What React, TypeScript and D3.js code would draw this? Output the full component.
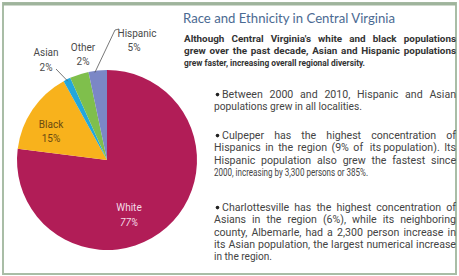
import { useEffect, useRef } from "react";
import * as d3 from "d3";

type Slice = { name: string; share: number; label: string; color: string };

// shares; labels as printed
const groups = ["White", "Black", "Asian", "Other", "Hispanic"];
const shares = [77, 15, 1.3, 3.4, 3.3];
const pctLabels = ["77%", "15%", "2%", "2%", "5%"];
const colors = ["#b11d57", "#f8b21c", "#22a7dc", "#7fbf4c", "#7b87c6"];

const title = "Race and Ethnicity in Central Virginia";
const intro = [
  "Although Central Virginia's white and black populations",
  "grew over the past decade, Asian and Hispanic populations",
  "grew faster, increasing overall regional diversity.",
];
const bullets = [
  [
    "Between 2000 and 2010, Hispanic and Asian",
    "populations grew in all localities.",
  ],
  [
    "Culpeper has the highest concentration of",
    "Hispanics in the region (9% of its population).  Its",
    "Hispanic population also grew the fastest since",
    "2000, increasing by 3,300 persons or 385%.",
  ],
  [
    "Charlottesville has the highest concentration of",
    "Asians in the region (6%), while its neighboring",
    "county, Albemarle, had a 2,300 person increase in",
    "its Asian population, the largest numerical increase",
    "in the region.",
  ],
];

const W = 459;
const H = 276;
const bodyFont = "Roboto, 'Noto Sans', sans-serif";

type LineSpec = { text: string; x: number; y: number; width: number; justify: boolean };

// place a line word by word so it fills its width like justified print
function drawLine(g: d3.Selection<SVGGElement, unknown, null, undefined>, l: LineSpec) {
  const t = g.append("text").attr("x", l.x).attr("y", l.y);
  if (!l.justify) {
    t.text(l.text);
    const w = (t.node() as SVGTextElement).getComputedTextLength();
    if (Math.abs(w - l.width) > l.width * 0.03)
      t.attr("textLength", l.width).attr("lengthAdjust", "spacingAndGlyphs");
    return;
  }
  const words = l.text.split(/ +/);
  const spans = words.map((w) => t.append("tspan").text(w));
  const widths = spans.map((s) => (s.node() as SVGTSpanElement).getComputedTextLength());
  const total = d3.sum(widths);
  const gap = (l.width - total) / (words.length - 1);
  if (gap < 1.8) {
    spans.forEach((s) => s.remove());
    t.text(l.text).attr("textLength", l.width).attr("lengthAdjust", "spacingAndGlyphs");
    return;
  }
  let x = l.x;
  spans.forEach((s, i) => {
    s.attr("x", x);
    x += widths[i] + gap;
  });
}

export default function App() {
  const textRef = useRef<SVGGElement | null>(null);

  const data: Slice[] = groups.map((g, i) => ({
    name: g,
    share: shares[i],
    label: pctLabels[i],
    color: colors[i],
  }));

  const cx = 107;
  const cy = 160;
  const r = 90;

  const pie = d3.pie<Slice>().sort(null).value((d) => d.share)(data);
  const arc = d3.arc<d3.PieArcDatum<Slice>>().innerRadius(0).outerRadius(r);
  const edge = d3.arc<d3.PieArcDatum<Slice>>().innerRadius(r - 2).outerRadius(r - 2);

  const byName = (n: string) => pie.find((p) => p.data.name === n)!;
  const asianEdge = edge.centroid(byName("Asian"));
  const hispEdge = edge.centroid(byName("Hispanic"));

  useEffect(() => {
    const root = d3.select(textRef.current!);
    root.selectAll("*").remove();

    const tx = 184;
    const right = 456;
    const lh = 12.4;
    const bulletTops = [94, 135, 207];
    const lastW = [148, 154, 58];

    const introG = root
      .append("g")
      .attr("font-family", bodyFont)
      .attr("font-size", 9.9)
      .attr("font-weight", 700)
      .attr("fill", "#333");
    intro.forEach((line, i) =>
      drawLine(introG, {
        text: line,
        x: tx,
        y: 41.5 + i * lh,
        width: i < intro.length - 1 ? right - tx : 181,
        justify: i < intro.length - 1,
      })
    );

    const bodyG = root
      .append("g")
      .attr("font-family", bodyFont)
      .attr("font-size", 10.6)
      .attr("fill", "#444");
    bullets.forEach((lines, b) => {
      lines.forEach((line, i) => {
        const last = i === lines.length - 1;
        const y = bulletTops[b] + 3.8 + i * lh;
        const x0 = i === 0 ? 222 : 214;
        if (i === 0) bodyG.append("circle").attr("cx", 217.5).attr("cy", y - 3.2).attr("r", 1.8).attr("fill", "#222");
        drawLine(bodyG, {
          text: line,
          x: x0,
          y,
          width: last ? lastW[b] : right - x0,
          justify: !last,
        });
      });
    });
  }, []);

  return (
    <svg
      width={W}
      height={H}
      style={{ position: "fixed", left: 0, top: 0, background: "#fff" }}
    >
      <rect x={3} y={3} width={W - 6} height={H - 5} fill="#fff" stroke="#a9bda6" strokeWidth={2} />
      <line x1={3} x2={W - 3} y1={4} y2={4} stroke="#9fb49c" strokeWidth={3} />

      <g transform={`translate(${cx},${cy})`}>
        {pie.map((p) => (
          <path key={p.data.name} d={arc(p) || ""} fill={p.data.color} />
        ))}
      </g>

      {/* slice labels */}
      <g fontFamily={bodyFont} fontSize={10} fill="#4a4a4a" textAnchor="middle">
        <text x={137} y={37}>Hispanic</text>
        <text x={134} y={51}>{byName("Hispanic").data.label}</text>
        <text x={83} y={51}>Other</text>
        <text x={83} y={65}>{byName("Other").data.label}</text>
        <text x={46} y={56}>Asian</text>
        <text x={46} y={71}>{byName("Asian").data.label}</text>
        <text x={51} y={128} fill="#6a4a12">Black</text>
        <text x={51} y={142} fill="#6a4a12">{byName("Black").data.label}</text>
        <text x={129} y={211} fill="#f4dbe6">White</text>
        <text x={129} y={226} fill="#f4dbe6" fontStyle="italic">{byName("White").data.label}</text>
      </g>
      <path
        d={`M${cx + asianEdge[0]},${cy + asianEdge[1]} L${56},${69}`}
        stroke="#555"
        strokeWidth={0.8}
        fill="none"
      />
      <path
        d={`M${cx + hispEdge[0] - 3},${cy + hispEdge[1]} L${115},${30} L${119},${29}`}
        stroke="#555"
        strokeWidth={0.8}
        fill="none"
      />

      <text x={183} y={23} fontFamily="Lato, 'Noto Sans', sans-serif" fontSize={14} fill="#4b6a92" textLength={212} lengthAdjust="spacingAndGlyphs">
        {title}
      </text>

      <g ref={textRef} />
    </svg>
  );
}
